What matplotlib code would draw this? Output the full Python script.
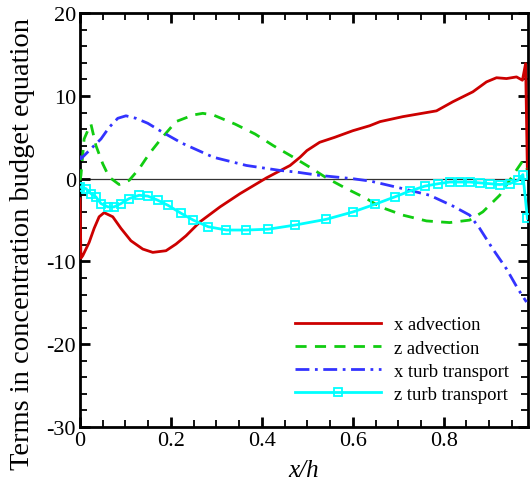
import matplotlib
matplotlib.use("Agg")
import matplotlib.pyplot as plt
from matplotlib.ticker import MultipleLocator

plt.rcParams["font.family"] = ["Liberation Serif", "DejaVu Serif"]
plt.rcParams["axes.unicode_minus"] = False

# x advection
xa_x = [0.0, 0.002, 0.006, 0.020, 0.031, 0.042, 0.053, 0.072, 0.090, 0.112,
        0.138, 0.160, 0.189, 0.211, 0.233, 0.264, 0.308, 0.352, 0.41, 0.462,
        0.484, 0.499, 0.527, 0.56, 0.6, 0.637, 0.66, 0.71, 0.784, 0.82,
        0.864, 0.894, 0.916, 0.938, 0.96, 0.973, 0.98, 0.984]
xa_y = [-2.4, -9.6, -9.3, -7.7, -6.0, -4.6, -4.1, -4.6, -6.0, -7.5,
        -8.5, -8.9, -8.7, -7.9, -6.9, -5.2, -3.4, -1.8, 0.1, 1.6,
        2.6, 3.4, 4.4, 5.0, 5.8, 6.4, 6.9, 7.5, 8.2, 9.3,
        10.5, 11.7, 12.2, 12.1, 12.3, 11.9, 13.9, 0.5]

# z advection
za_x = [0.0, 0.002, 0.009, 0.020, 0.024, 0.035, 0.050, 0.064, 0.086, 0.108,
        0.130, 0.152, 0.178, 0.211, 0.249, 0.27, 0.293, 0.341, 0.385, 0.425,
        0.469, 0.505, 0.542, 0.586, 0.63, 0.66, 0.71, 0.762, 0.813, 0.857,
        0.886, 0.923, 0.952, 0.973, 0.982]
za_y = [-0.2, 0.4, 4.8, 6.2, 6.6, 4.0, 1.8, 0.2, -0.7, -0.2,
        1.2, 3.0, 4.8, 6.9, 7.7, 7.9, 7.7, 6.6, 5.4, 4.0,
        2.6, 1.4, 0.1, -1.2, -2.4, -3.4, -4.4, -5.1, -5.3, -5.0,
        -4.0, -2.0, 0.4, 2.1, 1.2]

# x turbulent transport
xt_x = [0.0, 0.002, 0.020, 0.046, 0.064, 0.083, 0.101, 0.123, 0.149, 0.182,
        0.224, 0.293, 0.366, 0.44, 0.476, 0.527, 0.6, 0.64, 0.71, 0.769,
        0.82, 0.857, 0.879, 0.908, 0.938, 0.963, 0.982]
xt_y = [2.8, 2.4, 3.4, 4.8, 6.2, 7.3, 7.6, 7.3, 6.7, 5.6,
        4.3, 2.6, 1.6, 1.0, 0.8, 0.4, 0.0, -0.3, -1.2, -2.0,
        -3.3, -4.4, -6.0, -8.5, -10.9, -13.3, -14.9]

# z turbulent transport
zt_x = [0.0, 0.013, 0.024, 0.035, 0.046, 0.061, 0.075, 0.090, 0.108, 0.130,
        0.149, 0.171, 0.193, 0.223, 0.249, 0.282, 0.322, 0.366, 0.414, 0.473,
        0.542, 0.601, 0.648, 0.692, 0.725, 0.758, 0.788, 0.813, 0.835, 0.857,
        0.879, 0.901, 0.923, 0.945, 0.963, 0.974, 0.984]
zt_y = [-1.0, -1.2, -1.8, -2.2, -3.0, -3.4, -3.4, -3.0, -2.4, -2.0,
        -2.1, -2.6, -3.2, -4.2, -5.0, -5.8, -6.2, -6.2, -6.1, -5.6,
        -4.9, -4.0, -3.1, -2.2, -1.5, -0.9, -0.6, -0.4, -0.4, -0.4,
        -0.5, -0.6, -0.7, -0.6, -0.2, 0.5, -4.8]

labels = ["x advection", "z advection", "x turb transport", "z turb transport"]

fig = plt.figure(figsize=(5.30, 4.89), dpi=100)
ax = fig.add_axes([0.151, 0.1247, 0.845, 0.8463])

ax.axhline(0, color="#333333", lw=0.9, zorder=1)

ax.plot(xa_x, xa_y, color="#cc0000", lw=2.0, label=labels[0], zorder=3)
ax.plot(za_x, za_y, color="#11cc11", lw=2.0, ls=(0, (4, 3)), label=labels[1], zorder=3)
ax.plot(xt_x, xt_y, color="#3333ff", lw=2.0, ls=(0, (5, 2, 1, 2)), label=labels[2], zorder=3)
ax.plot(zt_x, zt_y, color="#00ffff", lw=2.0, marker="s", ms=5.5, mfc="none",
        mew=1.3, label=labels[3], zorder=4)

ax.set_xlim(0, 0.985)
ax.set_ylim(-30, 20)

ax.xaxis.set_minor_locator(MultipleLocator(0.05))
ax.yaxis.set_major_locator(MultipleLocator(10))
ax.yaxis.set_minor_locator(MultipleLocator(2))
ax.set_xticks([0, 0.2, 0.4, 0.6, 0.8])
ax.set_xticklabels(["0", "0.2", "0.4", "0.6", "0.8"])

ax.tick_params(which="both", direction="in", top=True, right=True,
               labelsize=16, width=1.3, pad=3)
ax.tick_params(which="major", length=7, width=2)
ax.tick_params(which="minor", length=5)
for sp in ax.spines.values():
    sp.set_linewidth(2)

ax.set_xlabel("x/h", fontsize=18, style="italic", labelpad=6)
ax.set_ylabel("Terms in concentration budget equation", fontsize=20.5)
ax.yaxis.set_label_coords(-0.10, 0.444)

leg = ax.legend(loc="upper left", bbox_to_anchor=(0.46, 0.29), frameon=False,
                fontsize=13.4, handlelength=4.6, handletextpad=0.7,
                borderpad=0, labelspacing=0.33)

fig.savefig("out.png", dpi=100)
